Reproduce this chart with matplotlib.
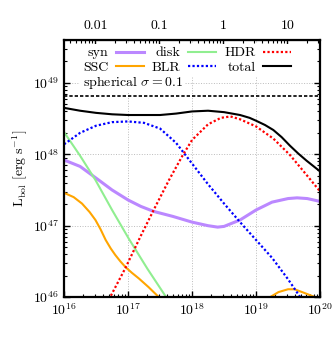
import numpy as np
import matplotlib
matplotlib.use("Agg")
import matplotlib.pyplot as plt
from matplotlib.ticker import FixedLocator, FixedFormatter, LogLocator, NullFormatter

plt.rcParams["font.family"] = "serif"
plt.rcParams["font.serif"] = ["cmr10", "DejaVu Serif"]
plt.rcParams["mathtext.fontset"] = "cm"
plt.rcParams["axes.formatter.use_mathtext"] = True
plt.rcParams["font.size"] = 10

PC = 3.086e18  # cm per parsec

# log10 r [cm] and log10 L [erg/s]
syn_r = [16.0, 16.25, 16.54, 16.75, 17.0, 17.2, 17.4, 17.7, 18.0, 18.25, 18.4, 18.5, 18.75, 19.0, 19.25, 19.5, 19.64, 19.8, 20.0]
syn_L = [47.92, 47.83, 47.64, 47.50, 47.36, 47.27, 47.20, 47.13, 47.05, 47.00, 46.98, 46.99, 47.08, 47.22, 47.33, 47.38, 47.39, 47.38, 47.34]

ssc_r = [16.0, 16.15, 16.28, 16.4, 16.49, 16.57, 16.65, 16.73, 16.8, 16.88, 16.96, 17.06, 17.17, 17.32, 17.48, 17.6,
         19.1, 19.22, 19.35, 19.5, 19.6, 19.75, 19.92, 20.0]
ssc_L = [47.46, 47.40, 47.31, 47.19, 47.08, 46.95, 46.80, 46.68, 46.59, 46.50, 46.42, 46.34, 46.26, 46.14, 46.0, 45.88,
         45.85, 46.0, 46.07, 46.11, 46.11, 46.06, 46.0, 45.95]

disk_r = [16.0, 16.25, 16.49, 16.75, 17.01, 17.3, 17.58, 17.7]
disk_L = [48.31, 47.98, 47.64, 47.22, 46.82, 46.40, 46.02, 45.85]

blr_r = [16.0, 16.25, 16.5, 16.75, 17.0, 17.25, 17.5, 17.75, 18.0, 18.25, 18.5, 18.75, 19.0, 19.25, 19.5, 19.69, 20.0]
blr_L = [48.14, 48.30, 48.40, 48.45, 48.46, 48.44, 48.36, 48.16, 47.87, 47.58, 47.31, 47.05, 46.80, 46.55, 46.25, 46.0, 45.6]

hdr_r = [16.6, 16.72, 16.96, 17.2, 17.4, 17.64, 17.85, 18.0, 18.25, 18.45, 18.6, 18.75, 19.0, 19.27, 19.53, 19.79, 20.0]
hdr_L = [45.8, 46.0, 46.41, 46.86, 47.22, 47.64, 47.98, 48.20, 48.42, 48.51, 48.53, 48.49, 48.39, 48.22, 47.99, 47.71, 47.48]

tot_r = [16.0, 16.25, 16.5, 16.75, 17.0, 17.25, 17.5, 17.75, 18.0, 18.25, 18.5, 18.75, 18.9, 19.0, 19.14, 19.27, 19.4, 19.53, 19.66, 19.79, 20.0]
tot_L = [48.65, 48.61, 48.58, 48.56, 48.55, 48.55, 48.55, 48.57, 48.60, 48.61, 48.59, 48.55, 48.51, 48.47, 48.41, 48.34, 48.24, 48.12, 48.01, 47.91, 47.76]

sph_L = 6.45e48
pc_ticks = [0.01, 0.1, 1, 10]
pc_labels = ["0.01", "0.1", "1", "10"]

fig = plt.figure(figsize=(3.32, 3.38), dpi=100)
ax = fig.add_axes([0.193, 0.121, 0.771, 0.761])

def tolin(a):
    return 10 ** np.asarray(a)

ax.plot(tolin(syn_r), tolin(syn_L), color="#bb88ff", lw=2.2, label="syn")
ax.plot(tolin(ssc_r), tolin(ssc_L), color="orange", lw=1.5, label="SSC")
ax.plot(tolin(disk_r), tolin(disk_L), color="#90ee90", lw=1.5, label="disk")
ax.plot(tolin(blr_r), tolin(blr_L), color="blue", lw=1.6, ls=(0, (1, 1)), label="BLR")
ax.plot(tolin(hdr_r), tolin(hdr_L), color="red", lw=1.6, ls=(0, (1, 1)), label="HDR")
ax.plot(tolin(tot_r), tolin(tot_L), color="black", lw=1.5, label="total")
ax.axhline(sph_L, color="black", lw=1.2, ls=(0, (2, 1.2)))

ax.set_xscale("log")
ax.set_yscale("log")
ax.set_xlim(1e16, 1e20)
ax.set_ylim(1e46, 4e49)
ax.yaxis.set_major_locator(LogLocator(base=10, numticks=10))
ax.yaxis.set_minor_locator(LogLocator(base=10, subs=np.arange(2, 10), numticks=10))
ax.yaxis.set_minor_formatter(NullFormatter())
ax.xaxis.set_minor_locator(LogLocator(base=10, subs=np.arange(2, 10), numticks=10))
ax.xaxis.set_minor_formatter(NullFormatter())
ax.grid(True, which="major", color="#bbbbbb", ls=":", lw=0.7)
ax.tick_params(which="both", direction="in", right=True, top=False, labelsize=10)
ax.tick_params(which="major", length=4, width=1)
ax.tick_params(which="minor", length=2.5, width=0.8)
for s in ax.spines.values():
    s.set_linewidth(1.6)

ax.set_ylabel(r"$\mathrm{L_{bol}\ [erg\ s^{-1}]}$", fontsize=10, labelpad=2)

sec = ax.secondary_xaxis("top", functions=(lambda x: x / PC, lambda x: x * PC))
sec.xaxis.set_major_locator(FixedLocator(pc_ticks))
sec.xaxis.set_major_formatter(FixedFormatter(pc_labels))
sec.xaxis.set_minor_locator(LogLocator(base=10, subs=np.arange(2, 10), numticks=10))
sec.xaxis.set_minor_formatter(NullFormatter())
sec.tick_params(which="both", direction="in", labelsize=10)
sec.tick_params(which="major", length=4, width=1, pad=6)
sec.tick_params(which="minor", length=2.5, width=0.8)

ax.text(0.072, 0.833, r"spherical $\sigma = 0.1$", transform=ax.transAxes,
        ha="left", va="center", fontsize=10,
        bbox=dict(facecolor="white", edgecolor="none", pad=1.5), zorder=5)

h, l = ax.get_legend_handles_labels()
leg = ax.legend(h, l, ncol=3, markerfirst=False, loc="upper center",
                bbox_to_anchor=(0.48, 0.995), fontsize=10, frameon=True,
                handlelength=2.0, handletextpad=0.55, columnspacing=0.6,
                labelspacing=0.15, borderpad=0.2, borderaxespad=0.2)
leg.get_frame().set_edgecolor("none")
leg.get_frame().set_facecolor("white")
leg.get_frame().set_alpha(1)
leg.get_frame().set_boxstyle("square", pad=0)

fig.savefig("out.png", dpi=100)
